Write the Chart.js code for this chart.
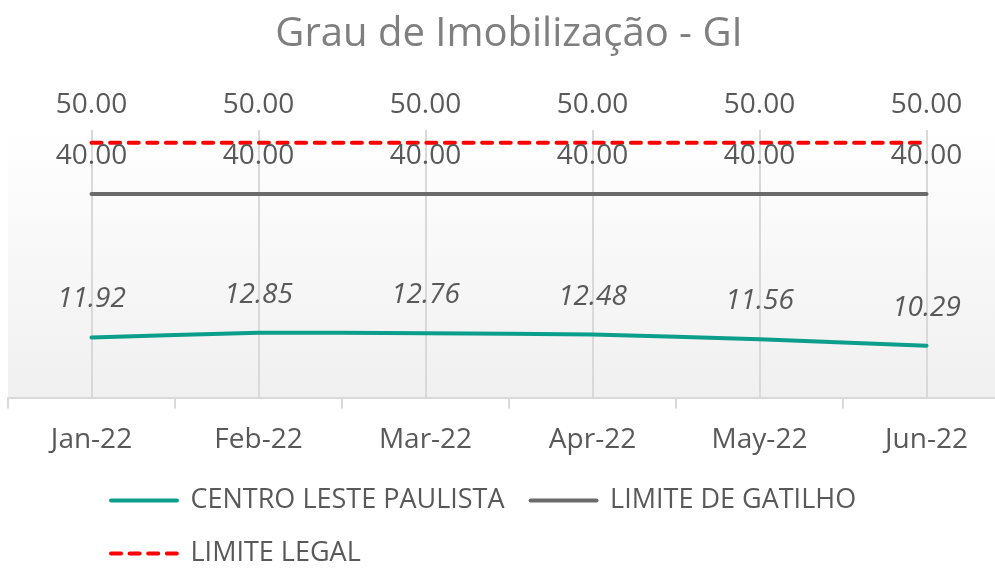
<!DOCTYPE html>
<html>
<head>
<meta charset="utf-8">
<script src="https://cdn.jsdelivr.net/npm/chart.js@4"></script>
<style>
    html, body { margin: 0; padding: 0; background: #fff; overflow: hidden; }
    #wrap { width: 1014px; height: 568px; }
</style>
</head>
<body>
<div id="wrap"><canvas id="giChart"></canvas></div>
<script>
const months = ['Jan-22', 'Feb-22', 'Mar-22', 'Apr-22', 'May-22', 'Jun-22'];
const centroLeste = [11.92, 12.85, 12.76, 12.48, 11.56, 10.29];
const limiteGatilho = [40, 40, 40, 40, 40, 40];
const limiteLegal = [50, 50, 50, 50, 50, 50];

const labelColor = '#595959';
const baseFont = 'Open Sans';

// light gray gradient behind the plot area
const plotBackground = {
    id: 'plotBackground',
    beforeDraw(chart) {
        const { ctx, chartArea } = chart;
        const g = ctx.createLinearGradient(0, chartArea.top, 0, chartArea.bottom);
        g.addColorStop(0, '#ffffff');
        g.addColorStop(1, '#f0f0f0');
        ctx.save();
        ctx.fillStyle = g;
        ctx.fillRect(chartArea.left, chartArea.top, chartArea.right - chartArea.left, chartArea.bottom - chartArea.top);
        ctx.restore();
    }
};

// value labels above each point
const valueLabels = {
    id: 'valueLabels',
    afterDatasetsDraw(chart) {
        const { ctx } = chart;
        ctx.save();
        ctx.textAlign = 'center';
        ctx.textBaseline = 'middle';
        ctx.fillStyle = labelColor;
        chart.data.datasets.forEach((ds, i) => {
            const meta = chart.getDatasetMeta(i);
            ctx.font = (i === 0 ? 'italic ' : '') + '28px "' + baseFont + '"';
            meta.data.forEach((pt, j) => {
                ctx.fillText(ds.data[j].toFixed(2), pt.x, pt.y - 38);
            });
        });
        ctx.restore();
    }
};

// put the legend where Excel had it (left aligned under the plot)
const legendPlace = {
    id: 'legendPlace',
    afterLayout(chart) {
        const lg = chart.legend;
        const h = lg.bottom - lg.top;
        lg.left = 85;
        lg.top = 461;
        lg.bottom = lg.top + h;
    }
};

const ctx = document.getElementById('giChart').getContext('2d');
new Chart(ctx, {
    type: 'line',
    data: {
        labels: months,
        datasets: [
            {
                label: 'CENTRO LESTE PAULISTA',
                data: centroLeste,
                borderColor: '#0B9E8A',
                backgroundColor: '#0B9E8A',
                borderWidth: 4,
                borderCapStyle: 'round',
                tension: 0.2,
                pointRadius: 0
            },
            {
                label: 'LIMITE DE GATILHO',
                data: limiteGatilho,
                borderColor: '#6b6b6b',
                backgroundColor: '#6b6b6b',
                borderWidth: 4,
                borderCapStyle: 'round',
                pointRadius: 0
            },
            {
                label: 'LIMITE LEGAL',
                data: limiteLegal,
                borderColor: '#ff0000',
                backgroundColor: '#ff0000',
                borderWidth: 4,
                borderDash: [10, 8.6],
                borderCapStyle: 'round',
                pointRadius: 0
            }
        ]
    },
    options: {
        responsive: true,
        maintainAspectRatio: false,
        animation: false,
        layout: { padding: { left: 8, right: 4, top: 0, bottom: -20 } },
        plugins: {
            title: {
                display: true,
                text: 'Grau de Imobilização - GI',
                color: '#7f7f7f',
                font: { family: baseFont, size: 40, weight: 'normal' },
                padding: { top: 11, bottom: 71 }
            },
            legend: {
                position: 'bottom',
                align: 'start',
                labels: {
                    usePointStyle: true,
                    pointStyle: 'line',
                    pointStyleWidth: 66,
                    padding: 26,
                    color: labelColor,
                    font: { family: baseFont, size: 27 },
                    generateLabels(chart) {
                        const items = Chart.defaults.plugins.legend.labels.generateLabels(chart);
                        items.forEach(item => {
                            const ds = chart.data.datasets[item.datasetIndex];
                            item.lineDash = ds.borderDash || [];
                            item.lineCap = 'round';
                            item.lineWidth = ds.borderWidth;
                            item.strokeStyle = ds.borderColor;
                        });
                        return items;
                    }
                }
            },
            tooltip: { enabled: false }
        },
        scales: {
            x: {
                offset: true,
                grid: {
                    offset: true,
                    drawOnChartArea: false,
                    tickLength: 10,
                    color: '#d9d9d9',
                    lineWidth: 2
                },
                border: { color: '#d9d9d9', width: 2 },
                ticks: {
                    color: labelColor,
                    padding: 15,
                    maxRotation: 0,
                    font: { family: baseFont, size: 28 }
                }
            },
            xGrid: {
                position: 'top',
                offset: true,
                grid: {
                    offset: false,
                    drawTicks: false,
                    color: '#d9d9d9',
                    lineWidth: 2
                },
                border: { display: false },
                ticks: { display: false }
            },
            y: {
                display: false,
                min: 0,
                max: 52.5
            }
        }
    },
    plugins: [plotBackground, valueLabels, legendPlace]
});
</script>
</body>
</html>
